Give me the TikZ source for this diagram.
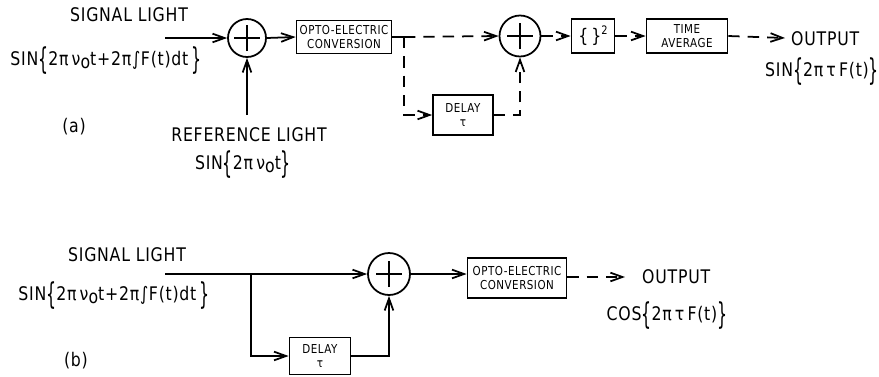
\documentclass[tikz,border=0pt]{standalone}
\usepackage{graphicx}
\usepackage{fontspec}
\setmainfont{DejaVu Sans}[FakeStretch=0.84, LetterSpace=4]
\usetikzlibrary{arrows.meta}
\newcommand{\obr}{\raisebox{-0.25em}{\scalebox{1}[1.6]{\{}}}
\newcommand{\cbr}{\raisebox{-0.25em}{\scalebox{1}[1.6]{\}}}}
\newcommand{\nuo}{ν\raisebox{-0.3ex}{o}}
\tikzset{
  blk/.style={draw, line width=1.5pt, inner sep=0pt, align=center,
    font=\fontsize{10.5}{12}\selectfont},
  sumnode/.style={circle, draw, line width=1.5pt, minimum size=11.4mm, inner sep=0pt,
    path picture={\draw[line width=1.5pt] (path picture bounding box.center) +(-3.9mm,0) -- +(3.9mm,0)
      (path picture bounding box.center) +(0,-3.9mm) -- +(0,3.9mm);}},
  sig/.style={-{Straight Barb[length=3.6mm,width=2.6mm]}, line width=1.5pt},
  dsh/.style={dash pattern=on 3.4mm off 2.4mm},
  lbl/.style={font=\fontsize{16}{18}\selectfont, inner sep=0pt},
}
\begin{document}
\begin{tikzpicture}[x=0.3mm, y=-0.3mm]
  \useasboundingbox (0,0) rectangle (879,376);

  % (a) heterodyne detection with delay
  \node[lbl] (sigA) at (129,15) {SIGNAL LIGHT};
  \node[lbl] (fA) at (106,61) {SIN\obr 2π\,\nuo t+2π∫F(t)dt\,\cbr};
  \node[lbl] (tagA) at (74,127) {(a)};
  \node[sumnode] (sum1) at (247,38) {};
  \node[lbl] (refA) at (249,135) {REFERENCE LIGHT};
  \node[lbl] (frefA) at (243,165) {SIN\obr 2π\,\nuo t\cbr};
  \node[blk, minimum width=28.5mm, minimum height=9.9mm] (opto1) at (344,37) {OPTO-ELECTRIC\\CONVERSION};
  \coordinate (br1) at (404,37);
  \node[blk, minimum width=18mm, minimum height=12mm] (dly1) at (463,115) {DELAY\\τ};
  \node[sumnode, minimum size=12.3mm] (sum2) at (520,36) {};
  \node[blk, font=\fontsize{16}{18}\selectfont, minimum width=12.9mm, minimum height=10.2mm] (sq) at (593,36) {\{\,\}\raisebox{0.8ex}{\fontsize{10}{11}\selectfont 2}};
  \node[blk, minimum width=24.3mm, minimum height=10.2mm] (tavg) at (687,36) {TIME\\AVERAGE};
  \coordinate (outA) at (785,38);
  \node[lbl, anchor=west] (outtA) at (791,39) {OUTPUT};
  \node[lbl] (foutA) at (822,72) {SIN\obr 2π\,τ\,F(t)\cbr};

  \draw[sig] (165,38) -- (sum1.west);
  \draw[sig] (247,115) -- (sum1.south);
  \draw[sig] (sum1.east) -- (opto1.west);
  \draw[line width=1.5pt] (opto1.east) -- (br1);
  \draw[sig, dsh] (br1) -- (sum2.west);
  \draw[sig, dsh] (br1) |- (dly1.west);
  \draw[sig, dsh] (dly1.east) -| (sum2.south);
  \draw[sig, dsh] (sum2.east) -- (sq.west);
  \draw[sig, dsh] (sq.east) -- (tavg.west);
  \draw[sig, dsh] (tavg.east) -- (outA);

  % (b) self-delayed homodyne
  \node[lbl] (sigB) at (127,255) {SIGNAL LIGHT};
  \node[lbl] (fB) at (114,296) {SIN\obr 2π\,\nuo t+2π∫F(t)dt\,\cbr};
  \node[lbl] (tagB) at (76,361) {(b)};
  \coordinate (inB) at (165,274);
  \coordinate (br2) at (251,274);
  \node[blk, minimum width=18.3mm, minimum height=11.1mm] (dly2) at (320,356) {DELAY\\τ};
  \node[sumnode, minimum size=12.6mm] (sum3) at (389,274) {};
  \node[blk, minimum width=29.7mm, minimum height=12mm] (opto2) at (517,278) {OPTO-ELECTRIC\\CONVERSION};
  \coordinate (outB) at (625,277);
  \node[lbl, anchor=west] (outtB) at (642,277) {OUTPUT};
  \node[lbl] (foutB) at (667,316) {COS\obr 2π\,τ\,F(t)\cbr};

  \draw[sig] (inB) -- (sum3.west);
  \draw[sig] (br2) |- (dly2.west);
  \draw[sig] (dly2.east) -| (sum3.south);
  \draw[sig] (sum3.east) -- (sum3.east -| opto2.west);
  \draw[sig, dsh] (opto2.east |- outB) -- (outB);
\end{tikzpicture}
\end{document}
